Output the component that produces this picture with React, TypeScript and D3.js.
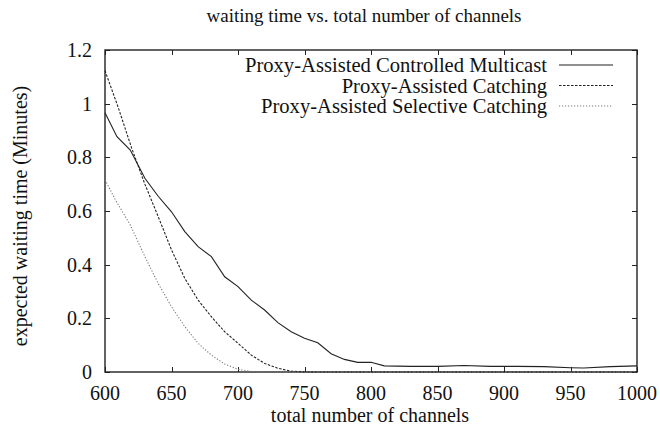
import React, { useEffect, useRef } from "react";
import * as d3 from "d3";

const channels = [600, 609, 619, 630, 640, 650, 660, 670, 680, 690, 700, 710, 720, 730, 740, 750, 760, 770, 780, 790, 800, 810, 830, 850, 870, 890, 910, 930, 950, 960, 980, 1000];
const multicast = [0.966, 0.877, 0.827, 0.722, 0.655, 0.597, 0.523, 0.467, 0.43, 0.355, 0.318, 0.268, 0.231, 0.184, 0.15, 0.126, 0.109, 0.068, 0.047, 0.036, 0.036, 0.023, 0.021, 0.021, 0.024, 0.021, 0.021, 0.02, 0.016, 0.015, 0.02, 0.023];

const catchingX = [600, 610, 620, 630, 640, 650, 660, 670, 680, 690, 700, 710, 720, 730, 740, 750, 1000];
const catching = [1.123, 0.985, 0.835, 0.7, 0.579, 0.455, 0.349, 0.268, 0.206, 0.15, 0.107, 0.063, 0.032, 0.014, 0.003, 0, 0];

const selectiveX = [600, 608, 619, 630, 640, 650, 660, 670, 680, 690, 700, 710, 720, 1000];
const selective = [0.716, 0.64, 0.548, 0.43, 0.33, 0.243, 0.169, 0.107, 0.063, 0.03, 0.01, 0.002, 0, 0];

const xTicks = [600, 650, 700, 750, 800, 850, 900, 950, 1000];
const yTicks = [0, 0.2, 0.4, 0.6, 0.8, 1, 1.2];
const legendLabels = ["Proxy-Assisted Controlled Multicast", "Proxy-Assisted Catching", "Proxy-Assisted Selective Catching"];

export default function App() {
  const ref = useRef<SVGSVGElement>(null);
  useEffect(() => {
    const svg = d3.select(ref.current);
    svg.selectAll("*").remove();
    const L = 105, R = 637, T = 50, B = 372;
    const x = d3.scaleLinear().domain([600, 1000]).range([L, R]);
    const y = d3.scaleLinear().domain([0, 1.2]).range([B, T]);
    const font = "'Liberation Serif', 'Times New Roman', serif";
    svg.append("rect").attr("width", 660).attr("height", 431).attr("fill", "white");

    const g = svg.append("g").attr("stroke", "#222").attr("stroke-width", 1);
    xTicks.forEach((t) => {
      const xp = Math.round(x(t)) + 0.5;
      g.append("line").attr("x1", xp).attr("x2", xp).attr("y1", B).attr("y2", B - 5);
      g.append("line").attr("x1", xp).attr("x2", xp).attr("y1", T).attr("y2", T + 5);
    });
    yTicks.forEach((t) => {
      const yp = Math.round(y(t)) + 0.5;
      g.append("line").attr("x1", L).attr("x2", L + 5).attr("y1", yp).attr("y2", yp);
      g.append("line").attr("x1", R).attr("x2", R - 5).attr("y1", yp).attr("y2", yp);
    });
    svg.append("rect").attr("x", L).attr("y", T).attr("width", R - L).attr("height", B - T)
      .attr("fill", "none").attr("stroke", "#222").attr("stroke-width", 1.4);

    xTicks.forEach((t) => {
      svg.append("text").attr("x", x(t)).attr("y", 400).attr("text-anchor", "middle")
        .attr("font-family", font).attr("font-size", 20).attr("fill", "#111").text(String(t));
    });
    yTicks.forEach((t) => {
      svg.append("text").attr("x", 92).attr("y", y(t) + 7).attr("text-anchor", "end")
        .attr("font-family", font).attr("font-size", 20).attr("fill", "#111").text(String(t));
    });

    svg.append("text").attr("x", 364).attr("y", 22).attr("text-anchor", "middle")
      .attr("font-family", font).attr("font-size", 19).attr("fill", "#111")
      .text("waiting time vs. total number of channels");
    svg.append("text").attr("x", 370).attr("y", 422).attr("text-anchor", "middle")
      .attr("font-family", font).attr("font-size", 20).attr("fill", "#111")
      .text("total number of channels");
    svg.append("text").attr("transform", `translate(27,${(T + B) / 2 + 5}) rotate(-90)`)
      .attr("text-anchor", "middle")
      .attr("font-family", font).attr("font-size", 20).attr("fill", "#111")
      .text("expected waiting time (Minutes)");

    const line = d3.line<[number, number]>().x((d) => x(d[0])).y((d) => y(d[1]));
    const series = [
      { xs: channels, ys: multicast, color: "#222", dash: null, w: 1.1 },
      { xs: catchingX, ys: catching, color: "#222", dash: "2.5,1.5", w: 1.1 },
      { xs: selectiveX, ys: selective, color: "#777", dash: "1.2,1.8", w: 1.1 },
    ];
    series.forEach((s, i) => {
      const pts = s.xs.map((v, j) => [v, s.ys[j]] as [number, number]);
      const p = svg.append("path").attr("d", line(pts)).attr("fill", "none")
        .attr("stroke", s.color).attr("stroke-width", s.w);
      if (s.dash) p.attr("stroke-dasharray", s.dash);
      const ly = 65 + i * 20.5;
      svg.append("text").attr("x", 547).attr("y", ly + 7).attr("text-anchor", "end")
        .attr("font-family", font).attr("font-size", 20.6).attr("fill", "#111").text(legendLabels[i]);
      const l = svg.append("line").attr("x1", 559).attr("x2", 613).attr("y1", ly).attr("y2", ly)
        .attr("stroke", s.color).attr("stroke-width", s.w);
      if (s.dash) l.attr("stroke-dasharray", s.dash);
    });
  }, []);
  return (
    <svg ref={ref} width={660} height={431} style={{ position: "absolute", left: 0, top: 0 }} />
  );
}
